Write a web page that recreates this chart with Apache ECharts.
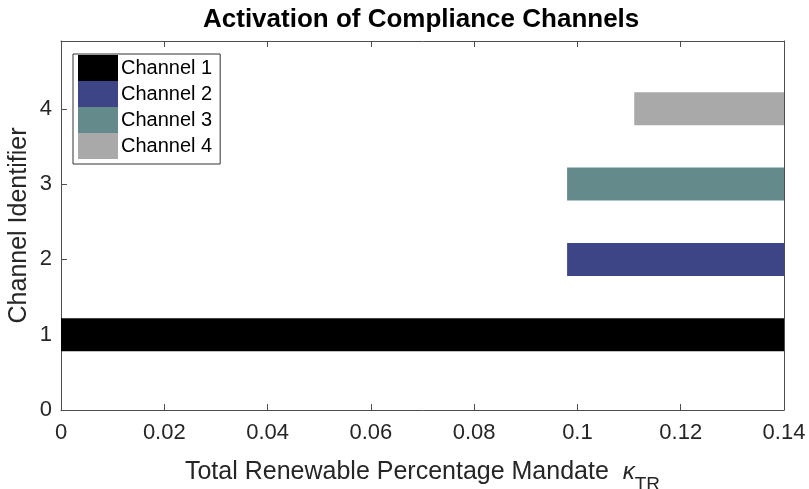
<!DOCTYPE html>
<html>
<head>
<meta charset="utf-8">
<script src="https://cdn.jsdelivr.net/npm/echarts@6/dist/echarts.min.js"></script>
<style>
  html, body { margin: 0; padding: 0; background: #fff; }
  #chart { width: 809px; height: 489px; }
</style>
</head>
<body>
<div id="chart"></div>
<script>
// channel activation data
const channelNames = ["Channel 1", "Channel 2", "Channel 3", "Channel 4"];
const channelIds = [1, 2, 3, 4];
const startMandate = [0, 0.098, 0.098, 0.111];
const endMandate = [0.14, 0.14, 0.14, 0.14];
const channelColors = ["#000000", "#3e4587", "#648a8b", "#a9a9aa"];
const xTicks = [0, 0.02, 0.04, 0.06, 0.08, 0.1, 0.12, 0.14];
const yTicks = [0, 1, 2, 3, 4];

const axisCol = "#4d4d4d";
const txtCol = "#262626";
const font = "Liberation Sans, Helvetica, Arial, sans-serif";

let chart = echarts.init(document.getElementById("chart"));

let series = channelNames.map((nm, i) => ({
  name: nm,
  type: "line",
  symbol: "none",
  color: channelColors[i],
  lineStyle: { width: 33, cap: "butt", color: channelColors[i] },
  data: [[startMandate[i], channelIds[i]], [endMandate[i], channelIds[i]]],
  z: 2
}));

// box axes (top / right) only carry ticks
const boxAxisX = {
  type: "value",
  position: "top",
  min: 0,
  max: 0.14,
  interval: 0.02,
  axisLine: { show: true, onZero: false, lineStyle: { color: axisCol, width: 1 } },
  axisTick: { show: true, inside: true, length: 6, lineStyle: { color: axisCol } },
  axisLabel: { show: false },
  splitLine: { show: false }
};
const boxAxisY = {
  type: "value",
  position: "right",
  min: 0,
  max: 4.9,
  interval: 1,
  axisLine: { show: true, onZero: false, lineStyle: { color: axisCol, width: 1 } },
  axisTick: { show: true, inside: true, length: 6, lineStyle: { color: axisCol } },
  axisLabel: { show: false },
  splitLine: { show: false }
};

chart.setOption({
  animation: false,
  textStyle: { fontFamily: font },
  title: {
    text: "Activation of Compliance Channels",
    left: 203,
    top: 2,
    padding: [5, 0, 5, 0],
    textStyle: { fontSize: 26, fontWeight: "bold", color: "#000", fontFamily: font }
  },
  legend: {
    data: channelNames,
    orient: "vertical",
    left: 73,
    top: 54,
    icon: "rect",
    itemWidth: 40,
    itemHeight: 26,
    itemGap: 0,
    padding: [1, 8, 5, 5],
    borderColor: "#333",
    borderWidth: 1,
    backgroundColor: "#fff",
    textStyle: { fontSize: 20, color: "#000", padding: [0, 0, 0, -2] },
    selectedMode: false
  },
  grid: { left: 61, right: 25, top: 41, bottom: 79, outerBoundsMode: "none", containLabel: false },
  xAxis: [
    {
      type: "value",
      min: 0,
      max: 0.14,
      interval: 0.02,
      name: "Total Renewable Percentage Mandate  {k|κ}{sub|TR}",
      nameLocation: "middle",
      nameGap: 41,
      nameTextStyle: {
        fontSize: 25,
        color: txtCol,
        rich: {
          k: { fontSize: 24, fontStyle: "italic", color: txtCol },
          sub: { fontSize: 19, color: txtCol, verticalAlign: "top", padding: [24, 0, 0, 0] }
        }
      },
      axisLine: { onZero: false, lineStyle: { color: axisCol, width: 1 } },
      axisTick: { inside: true, length: 6, lineStyle: { color: axisCol } },
      axisLabel: {
        fontSize: 22,
        color: txtCol,
        margin: 12,
        formatter: v => xTicks.includes(+v.toFixed(2)) ? String(+v.toFixed(2)) : ""
      },
      splitLine: { show: false }
    },
    boxAxisX
  ],
  yAxis: [
    {
      type: "value",
      min: 0,
      max: 4.9,
      interval: 1,
      name: "Channel Identifier",
      nameLocation: "middle",
      nameGap: 29,
      nameMoveOverlap: false,
      nameTextStyle: { fontSize: 25, color: txtCol },
      axisLine: { show: true, onZero: false, lineStyle: { color: axisCol, width: 1 } },
      axisTick: { show: true, inside: true, length: 6, lineStyle: { color: axisCol } },
      axisLabel: {
        fontSize: 22,
        color: txtCol,
        margin: 9,
        showMaxLabel: false,
        formatter: v => yTicks.includes(v) ? String(v) : ""
      },
      splitLine: { show: false }
    },
    boxAxisY
  ],
  series: series
});
</script>
</body>
</html>
